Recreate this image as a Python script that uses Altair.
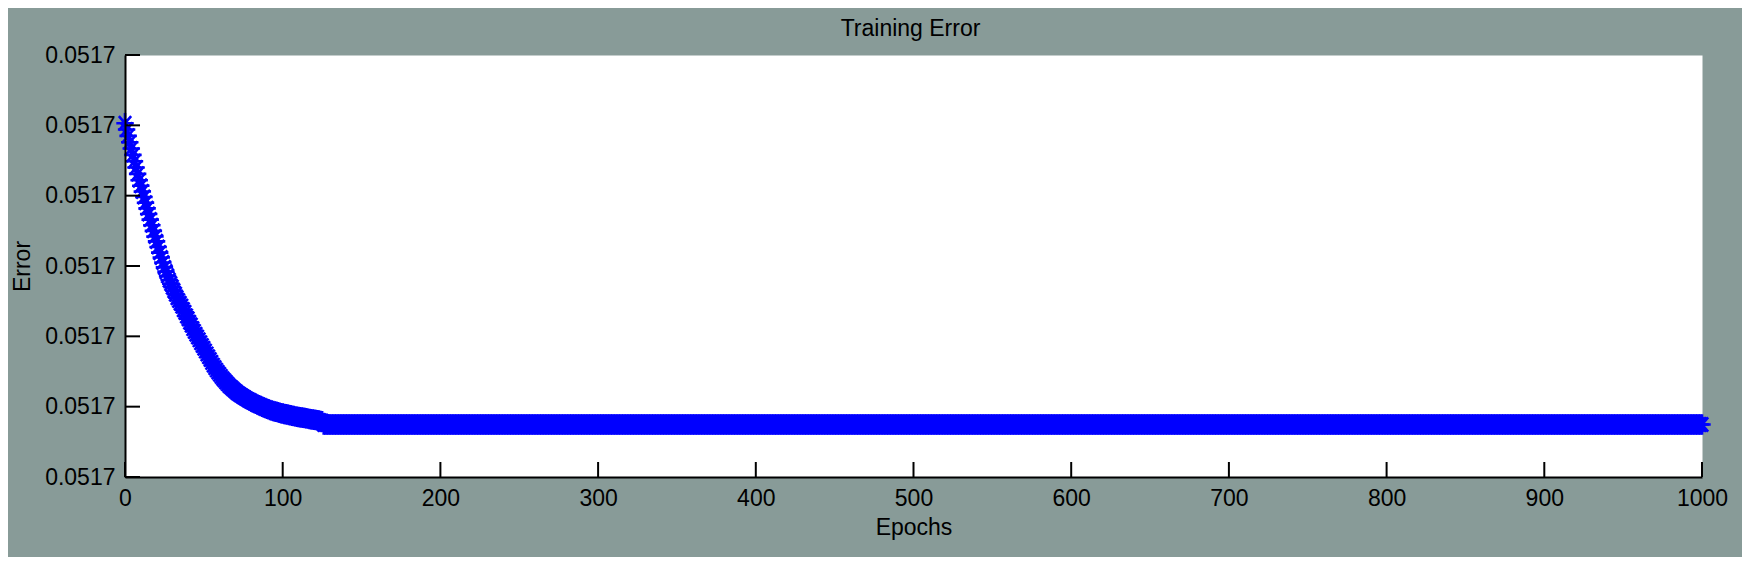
import altair as alt
import pandas as pd

# ---- data (error offsets in units of 1e-7 above ERR_BASE) ----
ERR_BASE = 0.0516996
ERR_STEP = 1e-7

decay_epochs = list(range(0, 126))
decay_offsets = [
    5.03, 4.94, 4.85, 4.76, 4.67, 4.58, 4.49, 4.40, 4.31, 4.22,
    4.14, 4.06, 3.98, 3.90, 3.82, 3.74, 3.66, 3.58, 3.50, 3.42,
    3.35, 3.27, 3.19, 3.12, 3.05, 2.98, 2.92, 2.86, 2.80, 2.75,
    2.70, 2.65, 2.60, 2.55, 2.51, 2.47, 2.43, 2.38, 2.34, 2.29,
    2.25, 2.20, 2.16, 2.11, 2.07, 2.03, 1.99, 1.95, 1.91, 1.87,
    1.83, 1.79, 1.75, 1.71, 1.67, 1.63, 1.59, 1.555, 1.52, 1.49,
    1.46, 1.43, 1.40, 1.375, 1.35, 1.325, 1.30, 1.28, 1.26, 1.24,
    1.22, 1.20, 1.185, 1.17, 1.155, 1.14, 1.126, 1.112, 1.099, 1.086,
    1.074, 1.062, 1.051, 1.040, 1.029, 1.019, 1.009, 0.999, 0.989, 0.980,
    0.971, 0.962, 0.954, 0.946, 0.939, 0.932, 0.926, 0.920, 0.914, 0.908,
    0.902, 0.897, 0.892, 0.887, 0.882, 0.877, 0.872, 0.867, 0.862, 0.858,
    0.854, 0.850, 0.846, 0.842, 0.838, 0.834, 0.830, 0.826, 0.822, 0.818,
    0.814, 0.810, 0.806, 0.802, 0.798, 0.794,
]
flat_epochs = list(range(126, 1001))
flat_offset = 0.747  # constant plateau level

x_tick_values = [0, 100, 200, 300, 400, 500, 600, 700, 800, 900, 1000]
y_tick_offsets = [0, 1, 2, 3, 4, 5, 6]
chart_title = ["Training Error"]

# ---- tables ----
epochs = decay_epochs + flat_epochs
offsets = decay_offsets + [flat_offset] * len(flat_epochs)
df = pd.DataFrame({
    "epoch": epochs,
    "error": [ERR_BASE + o * ERR_STEP for o in offsets],
})
y_tick_values = [ERR_BASE + o * ERR_STEP for o in y_tick_offsets]
xt = pd.DataFrame({"epoch": x_tick_values})
yt = pd.DataFrame({"error": y_tick_values})
tt = pd.DataFrame({"t": chart_title})

W, H = 1577, 422
FONT = "Liberation Sans"
FS = 23
BLUE = "#0000ff"
BG = "#889b98"
STAR = "M-0.85,0L0.85,0M0,-1L0,1M-0.6,-0.7L0.6,0.7M-0.6,0.7L0.6,-0.7"

xscale = alt.Scale(domain=[0, 1000], nice=False, zero=False)
yscale = alt.Scale(domain=[y_tick_values[0], y_tick_values[-1]], nice=False, zero=False)

x_axis = alt.Axis(
    values=x_tick_values, format="d", title="Epochs",
    titleFont=FONT, titleFontSize=FS, titleFontWeight="normal", titleColor="black",
    titleBaseline="alphabetic", titleY=57,
    labelFont=FONT, labelFontSize=FS, labelColor="black", labelPadding=10,
    labelFlush=False, labelOverlap=False,
    ticks=False, tickSize=0, grid=False,
    domainColor="black", domainWidth=2, zindex=1,
)
y_axis = alt.Axis(
    values=y_tick_values, format=".4f", title="Error",
    titleFont=FONT, titleFontSize=FS, titleFontWeight="normal", titleColor="black",
    titleAngle=270, titleBaseline="alphabetic", titleAlign="center",
    titleX=-96, titleY=H / 2,
    labelFont=FONT, labelFontSize=FS, labelColor="black", labelPadding=10,
    labelFlush=False, labelOverlap=False,
    ticks=False, tickSize=0, grid=False,
    domainColor="black", domainWidth=2, zindex=1,
)

points = alt.Chart(df).mark_point(
    shape=STAR, filled=False, size=420, strokeWidth=2.6, color=BLUE, opacity=1
).encode(
    x=alt.X("epoch:Q", scale=xscale, axis=x_axis),
    y=alt.Y("error:Q", scale=yscale, axis=y_axis),
)

xticks = alt.Chart(xt).mark_rule(color="black", strokeWidth=2).encode(
    x=alt.X("epoch:Q", scale=xscale, axis=x_axis),
    y=alt.value(H),
    y2=alt.value(H - 15),
)
yticks = alt.Chart(yt).mark_rule(color="black", strokeWidth=2).encode(
    y=alt.Y("error:Q", scale=yscale, axis=y_axis),
    x=alt.value(0),
    x2=alt.value(15),
)

title = alt.Chart(tt).mark_text(
    font=FONT, fontSize=FS, color="black", align="center", baseline="alphabetic"
).encode(
    text="t:N",
    x=alt.value(W / 2 - 3),
    y=alt.value(-19),
)

chart = alt.layer(points, xticks, yticks, title).properties(
    width=W,
    height=H,
    autosize=alt.AutoSizeParams(type="none"),
    padding={"left": 117, "top": 47, "right": 40, "bottom": 80},
).configure(background=BG).configure_view(fill="white", stroke="transparent")

chart.save("out.html", embed_options={"renderer": "svg", "actions": False})
